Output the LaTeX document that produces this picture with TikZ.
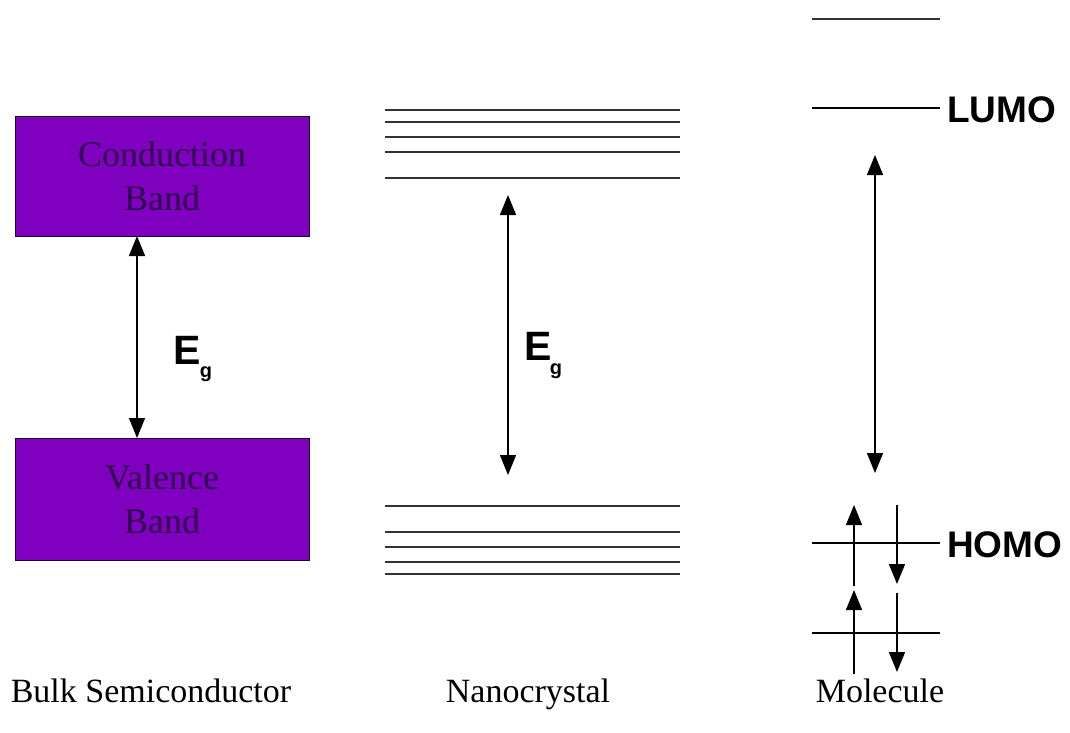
\documentclass[tikz,border=0pt]{standalone}
\usepackage{fontspec}
\setmainfont{Liberation Serif}
\setsansfont{Liberation Sans}
\usetikzlibrary{arrows.meta}
\definecolor{bandfill}{HTML}{7F00BF}
\definecolor{bandtext}{HTML}{30004F}
\definecolor{lvl}{HTML}{333333}
\begin{document}
\begin{tikzpicture}[x=1pt,y=-1pt,
  band/.style={draw=black!80!bandfill,line width=1pt,fill=bandfill,minimum width=294pt,inner sep=0pt,
    text=bandtext,font=\fontsize{36}{44}\selectfont,align=center},
  level/.style={draw=lvl,line width=1.6pt},
  gap/.style={line width=1.4pt,{Triangle[length=20pt,width=16pt]}-{Triangle[length=20pt,width=16pt]}},
  spin/.style={line width=1.4pt,-{Triangle[length=20pt,width=16pt]}},
  eg/.style={font=\sffamily\bfseries\fontsize{41}{41}\selectfont,inner sep=0pt},
  sub/.style={font=\sffamily\bfseries\fontsize{20}{20}\selectfont,inner sep=0pt},
  orb/.style={font=\sffamily\bfseries\fontsize{37}{37}\selectfont,anchor=west,inner sep=0pt},
  caption/.style={font=\fontsize{34}{34}\selectfont,inner sep=0pt,anchor=base}]
\useasboundingbox (0,0) rectangle (1070,732);
% Bulk
\node[band,minimum height=120pt] (cb) at (162,176) {Conduction\\Band};
\node[band,minimum height=122pt] (vb) at (162,499) {Valence\\Band};
\coordinate (cbb) at (137,236);
\coordinate (vbt) at (137,438);
\draw[gap] (cbb) -- (vbt);
\node[eg] (eg1) at (187,350) {E};
\node[sub] (g1) at (206,374) {g};
\node[caption] (lbulk) at (151,702) {Bulk Semiconductor};
% Nanocrystal
\foreach \y [count=\i] in {110,122,137,152,178}{
  \coordinate (nt\i a) at (385,\y); \coordinate (nt\i b) at (680,\y);
  \draw[level] (nt\i a) -- (nt\i b);}
\foreach \y [count=\i] in {506,532,547,562,574}{
  \coordinate (nv\i a) at (385,\y); \coordinate (nv\i b) at (680,\y);
  \draw[level] (nv\i a) -- (nv\i b);}
\coordinate (ntop) at (508,195);
\coordinate (nbot) at (508,475);
\draw[gap] (ntop) -- (nbot);
\node[eg] (eg2) at (538,346) {E};
\node[sub] (g2) at (556,371) {g};
\node[caption] (lnano) at (528,702) {Nanocrystal};
% Molecule
\coordinate (l1a) at (812,19); \coordinate (l1b) at (940,19);
\coordinate (l2a) at (812,108); \coordinate (l2b) at (940,108);
\coordinate (h1a) at (812,543); \coordinate (h1b) at (940,543);
\coordinate (h2a) at (812,633); \coordinate (h2b) at (940,633);
\draw[level] (l1a) -- (l1b);
\draw[line width=1.4pt] (l2a) -- (l2b);
\draw[line width=1.4pt] (h1a) -- (h1b);
\draw[line width=1.4pt] (h2a) -- (h2b);
\node[orb] (lumo) at (947,110) {LUMO};
\node[orb] (homo) at (947,545) {HOMO};
\coordinate (mtop) at (875,155);
\coordinate (mbot) at (875,473);
\draw[gap] (mtop) -- (mbot);
\coordinate (u1s) at (854,586); \coordinate (u1e) at (854,505);
\coordinate (d1s) at (897,505); \coordinate (d1e) at (897,584);
\coordinate (u2s) at (854,674); \coordinate (u2e) at (854,590);
\coordinate (d2s) at (897,593); \coordinate (d2e) at (897,672);
\draw[spin] (u1s) -- (u1e);
\draw[spin] (d1s) -- (d1e);
\draw[spin] (u2s) -- (u2e);
\draw[spin] (d2s) -- (d2e);
\node[caption] (lmol) at (880,702) {Molecule};
\end{tikzpicture}
\end{document}
